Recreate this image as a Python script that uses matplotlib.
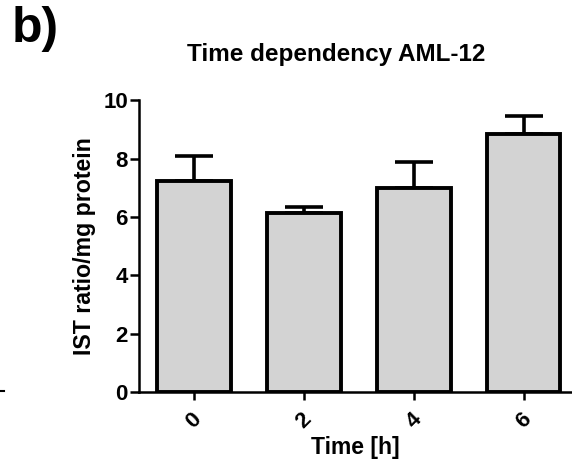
import matplotlib
matplotlib.use('Agg')
import matplotlib.pyplot as plt
from matplotlib.lines import Line2D

# data
times = ['0', '2', '4', '6']
means = [7.25, 6.15, 6.98, 8.85]
sem = [0.85, 0.20, 0.90, 0.60]

plt.rcParams['font.family'] = ['Liberation Sans', 'DejaVu Sans']
plt.rcParams['font.weight'] = 'bold'

fig = plt.figure(figsize=(5.72, 4.65), dpi=100)
ax = fig.add_axes([0.243, 0.157, 0.755, 0.627])

x = list(range(len(times)))
ax.bar(x, means, width=0.67, color='#d3d3d3', edgecolor='black', linewidth=2.8, zorder=2)
ax.errorbar(x, means, yerr=[[0] * len(sem), sem], fmt='none', ecolor='black',
            elinewidth=2.6, capsize=13.5, capthick=2.6, zorder=1)

ax.set_ylim(0, 10)
ax.set_xlim(-0.5, 3.43)
ax.set_yticks([0, 2, 4, 6, 8, 10])
ax.set_xticks(x)
ax.set_xticklabels(times, rotation=45, ha='center')
for s in ['top', 'right']:
    ax.spines[s].set_visible(False)
for s in ['left', 'bottom']:
    ax.spines[s].set_linewidth(1.8)
ax.tick_params(axis='both', width=1.8, length=6.5, labelsize=16, pad=1.5)
ax.tick_params(axis='x', length=5.5, pad=7)

ax.set_ylabel('IST ratio/mg protein', fontsize=16.7, fontweight='bold', labelpad=5)
ax.set_xlabel('Time [h]', fontsize=16.5, fontweight='bold', labelpad=2)

fig.text(336 / 572, 1 - 55 / 465, 'Time dependency AML-12', ha='center', va='center',
         fontsize=17.5, fontweight='bold')
fig.text(12 / 572, 1 - 29 / 465, 'b)', ha='left', va='center', fontsize=36, fontweight='bold')
# stray mark from neighbouring panel
fig.add_artist(Line2D([0, 4 / 572], [1 - 391 / 465] * 2, color='black', lw=1.5))

fig.savefig('out.png', dpi=100)
